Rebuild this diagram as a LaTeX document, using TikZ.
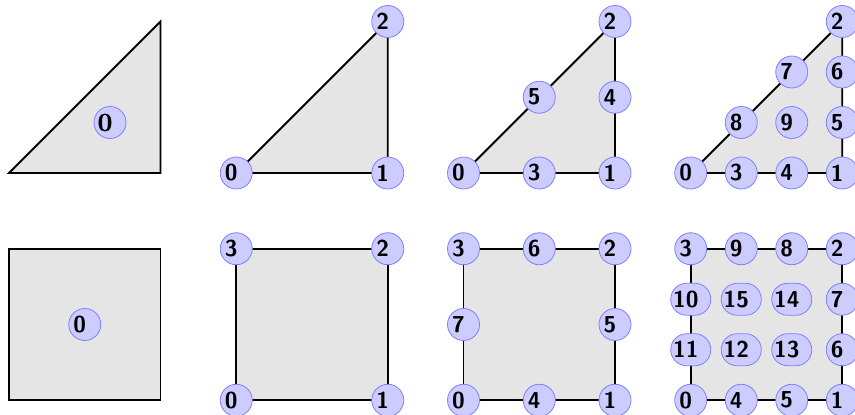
\documentclass[tikz,border=0pt]{standalone}
\usepackage{fontspec}
\newfontfamily\serifheavy[FakeBold=1.2]{Latin Modern Roman}
\newcommand\vfont{\sffamily\bfseries\fontsize{23}{23}\selectfont}
\newcommand\vfontserif{\serifheavy\bfseries\fontsize{26}{26}\selectfont}
\newcommand\vlab[1]{\makebox[0pt]{\raisebox{-1pt}{#1}\hspace{10pt}}}
\tikzset{
  shapefill/.style={fill=black!10, draw=black, line width=1.8pt},
  vtxbase/.style={fill=blue!20, draw=blue!50, line width=0.8pt, inner sep=0pt},
  vtx/.style={vtxbase, circle, minimum size=32pt, font=\vfont},
  vtxs/.style={vtxbase, circle, minimum size=32pt, font=\vfontserif},
  vtxw/.style={vtxbase, rectangle, rounded corners=15.9pt, minimum width=40pt, minimum height=32pt, font=\vfont},
  panel/.style={x=151.5pt, y=151.5pt},
}
\begin{document}
\begin{tikzpicture}[x=1pt,y=1pt]
\useasboundingbox (0,0) rectangle (855,415);

% ---------- Triangle, order 0
\begin{scope}[panel, shift={(9pt,242pt)}]
  \coordinate (ta0) at (0,0);
  \coordinate (ta1) at (1,0);
  \coordinate (ta2) at (1,1);
  \draw[shapefill] (ta0) -- (ta1) -- (ta2) -- cycle;
  \node[vtxs] (ta) at (2/3,1/3) {\vlab{0}};
\end{scope}

% ---------- Triangle, order 1
\begin{scope}[panel, shift={(236.25pt,242pt)}]
  \coordinate (tb0) at (0,0);
  \coordinate (tb1) at (1,0);
  \coordinate (tb2) at (1,1);
  \draw[shapefill] (tb0) -- (tb1) -- (tb2) -- cycle;
  \node[vtx] (nb0) at (tb0) {\vlab{0}};
  \node[vtx] (nb1) at (tb1) {\vlab{1}};
  \node[vtx] (nb2) at (tb2) {\vlab{2}};
\end{scope}

% ---------- Triangle, order 2
\begin{scope}[panel, shift={(463.5pt,242pt)}]
  \coordinate (tc0) at (0,0);
  \coordinate (tc1) at (1,0);
  \coordinate (tc2) at (1,1);
  \draw[shapefill] (tc0) -- (tc1) -- (tc2) -- cycle;
  \node[vtx] (nc0) at (tc0) {\vlab{0}};
  \node[vtx] (nc1) at (tc1) {\vlab{1}};
  \node[vtx] (nc2) at (tc2) {\vlab{2}};
  \node[vtx] (nc3) at (0.5,0) {\vlab{3}};
  \node[vtx] (nc4) at (1,0.5) {\vlab{4}};
  \node[vtx] (nc5) at (0.5,0.5) {\vlab{5}};
\end{scope}

% ---------- Triangle, order 3
\begin{scope}[panel, shift={(690.75pt,242pt)}]
  \coordinate (td0) at (0,0);
  \coordinate (td1) at (1,0);
  \coordinate (td2) at (1,1);
  \draw[shapefill] (td0) -- (td1) -- (td2) -- cycle;
  \node[vtx] (nd0) at (td0) {\vlab{0}};
  \node[vtx] (nd1) at (td1) {\vlab{1}};
  \node[vtx] (nd2) at (td2) {\vlab{2}};
  \node[vtx] (nd3) at (1/3,0) {\vlab{3}};
  \node[vtx] (nd4) at (2/3,0) {\vlab{4}};
  \node[vtx] (nd5) at (1,1/3) {\vlab{5}};
  \node[vtx] (nd6) at (1,2/3) {\vlab{6}};
  \node[vtx] (nd7) at (2/3,2/3) {\vlab{7}};
  \node[vtx] (nd8) at (1/3,1/3) {\vlab{8}};
  \node[vtx] (nd9) at (2/3,1/3) {\vlab{9}};
\end{scope}

% ---------- Square, order 0
\begin{scope}[panel, shift={(9pt,14.75pt)}]
  \coordinate (sa0) at (0,0);
  \coordinate (sa1) at (1,0);
  \coordinate (sa2) at (1,1);
  \coordinate (sa3) at (0,1);
  \draw[shapefill] (sa0) -- (sa1) -- (sa2) -- (sa3) -- cycle;
  \node[vtx] (sa) at (0.5,0.5) {\vlab{0}};
\end{scope}

% ---------- Square, order 1
\begin{scope}[panel, shift={(236.25pt,14.75pt)}]
  \coordinate (sb0) at (0,0);
  \coordinate (sb1) at (1,0);
  \coordinate (sb2) at (1,1);
  \coordinate (sb3) at (0,1);
  \draw[shapefill] (sb0) -- (sb1) -- (sb2) -- (sb3) -- cycle;
  \node[vtx] (mb0) at (sb0) {\vlab{0}};
  \node[vtx] (mb1) at (sb1) {\vlab{1}};
  \node[vtx] (mb2) at (sb2) {\vlab{2}};
  \node[vtx] (mb3) at (sb3) {\vlab{3}};
\end{scope}

% ---------- Square, order 2
\begin{scope}[panel, shift={(463.5pt,14.75pt)}]
  \coordinate (sc0) at (0,0);
  \coordinate (sc1) at (1,0);
  \coordinate (sc2) at (1,1);
  \coordinate (sc3) at (0,1);
  \draw[shapefill] (sc0) -- (sc1) -- (sc2) -- (sc3) -- cycle;
  \node[vtx] (mc0) at (sc0) {\vlab{0}};
  \node[vtx] (mc1) at (sc1) {\vlab{1}};
  \node[vtx] (mc2) at (sc2) {\vlab{2}};
  \node[vtx] (mc3) at (sc3) {\vlab{3}};
  \node[vtx] (mc4) at (0.5,0) {\vlab{4}};
  \node[vtx] (mc5) at (1,0.5) {\vlab{5}};
  \node[vtx] (mc6) at (0.5,1) {\vlab{6}};
  \node[vtx] (mc7) at (0,0.5) {\vlab{7}};
\end{scope}

% ---------- Square, order 3
\begin{scope}[panel, shift={(690.75pt,14.75pt)}]
  \coordinate (sd0) at (0,0);
  \coordinate (sd1) at (1,0);
  \coordinate (sd2) at (1,1);
  \coordinate (sd3) at (0,1);
  \draw[shapefill] (sd0) -- (sd1) -- (sd2) -- (sd3) -- cycle;
  \node[vtx] (md0) at (sd0) {\vlab{0}};
  \node[vtx] (md1) at (sd1) {\vlab{1}};
  \node[vtx] (md2) at (sd2) {\vlab{2}};
  \node[vtx] (md3) at (sd3) {\vlab{3}};
  \node[vtx] (md4) at (1/3,0) {\vlab{4}};
  \node[vtx] (md5) at (2/3,0) {\vlab{5}};
  \node[vtx] (md6) at (1,1/3) {\vlab{6}};
  \node[vtx] (md7) at (1,2/3) {\vlab{7}};
  \node[vtx] (md8) at (2/3,1) {\vlab{8}};
  \node[vtx] (md9) at (1/3,1) {\vlab{9}};
  \node[vtxw] (md10) at (0,2/3) {\vlab{10}};
  \node[vtxw] (md11) at (0,1/3) {\vlab{11}};
  \node[vtxw] (md12) at (1/3,1/3) {\vlab{12}};
  \node[vtxw] (md13) at (2/3,1/3) {\vlab{13}};
  \node[vtxw] (md14) at (2/3,2/3) {\vlab{14}};
  \node[vtxw] (md15) at (1/3,2/3) {\vlab{15}};
\end{scope}
\end{tikzpicture}
\end{document}
